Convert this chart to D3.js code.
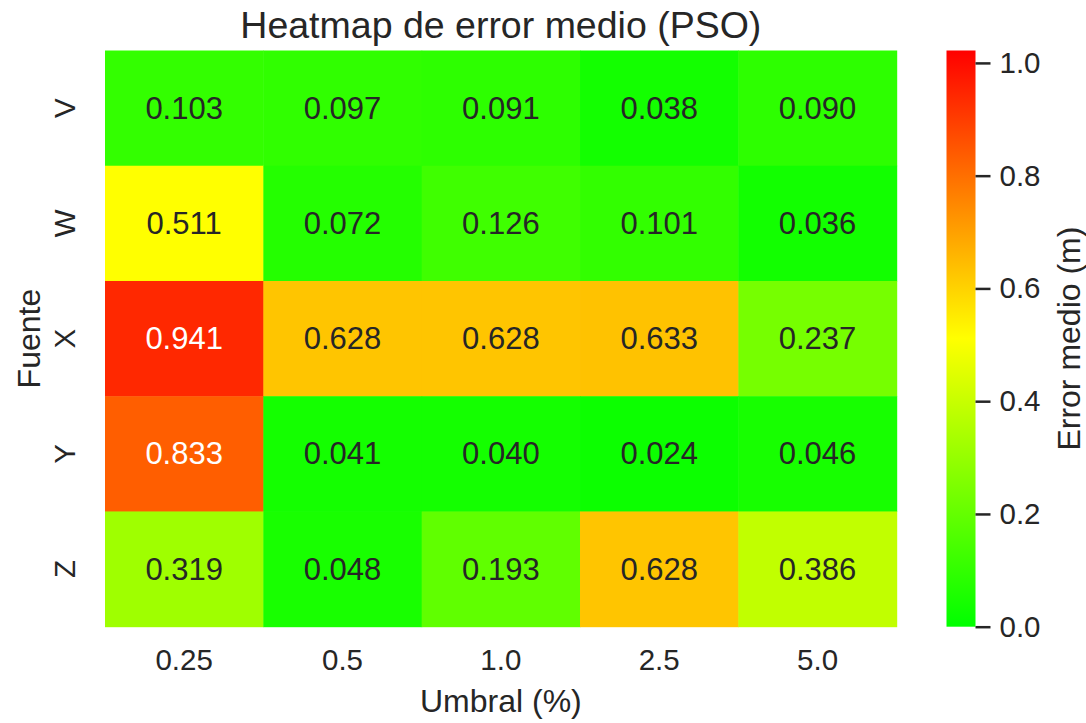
<!DOCTYPE html>
<html>
<head>
<meta charset="utf-8">
<script src="https://cdn.jsdelivr.net/npm/d3@7"></script>
<style>
  body { margin: 0; background: #fff; }
  text { font-family: "Liberation Sans", Arial, sans-serif; fill: #262626; }
</style>
</head>
<body>
<div id="chart"></div>
<script>
const umbrales = ['0.25', '0.5', '1.0', '2.5', '5.0'];
const fuentes = ['V', 'W', 'X', 'Y', 'Z'];
const errorV = [0.103, 0.097, 0.091, 0.038, 0.090];
const errorW = [0.511, 0.072, 0.126, 0.101, 0.036];
const errorX = [0.941, 0.628, 0.628, 0.633, 0.237];
const errorY = [0.833, 0.041, 0.040, 0.024, 0.046];
const errorZ = [0.319, 0.048, 0.193, 0.628, 0.386];
const cbarTicks = [0.0, 0.2, 0.4, 0.6, 0.8, 1.0];
const vmax = 1.022;

const rows = [errorV, errorW, errorX, errorY, errorZ];
const cells = [];
rows.forEach((r, i) => r.forEach((v, j) => cells.push({ fuente: fuentes[i], umbral: umbrales[j], value: v })));

const W = 1086, H = 723;
const plot = { left: 105, right: 896.7, top: 50.5, bottom: 626.7 };
const FONT = '"Liberation Sans", Arial, sans-serif';

const svg = d3.select('#chart').append('svg')
  .attr('width', W).attr('height', H);

const x = d3.scaleBand().domain(umbrales).range([plot.left, plot.right]);
const y = d3.scaleBand().domain(fuentes).range([plot.top, plot.bottom]);

// green -> yellow -> red
const color = d3.scaleLinear()
  .domain([0, vmax / 2, vmax])
  .range(['#00ff00', '#ffff00', '#ff0000'])
  .clamp(true);

function textColor(v) {
  const c = d3.rgb(color(v));
  const lin = ch => { ch /= 255; return ch <= 0.03928 ? ch / 12.92 : Math.pow((ch + 0.055) / 1.055, 2.4); };
  const lum = 0.2126 * lin(c.r) + 0.7152 * lin(c.g) + 0.0722 * lin(c.b);
  return lum > 0.408 ? '#262626' : '#ffffff';
}

svg.selectAll('.cell')
  .data(cells)
  .enter()
  .append('rect')
  .attr('class', 'cell')
  .attr('x', d => x(d.umbral))
  .attr('y', d => y(d.fuente))
  .attr('width', x.bandwidth() + 0.5)
  .attr('height', y.bandwidth() + 0.5)
  .attr('fill', d => color(d.value));

svg.selectAll('.annot')
  .data(cells)
  .enter()
  .append('text')
  .attr('class', 'annot')
  .attr('x', d => x(d.umbral) + x.bandwidth() / 2)
  .attr('y', d => y(d.fuente) + y.bandwidth() / 2)
  .attr('text-anchor', 'middle')
  .attr('dominant-baseline', 'central')
  .style('font-size', '31px')
  .style('fill', d => textColor(d.value))
  .text(d => d.value.toFixed(3));

// x axis
const xAxis = svg.append('g')
  .attr('transform', `translate(0,${plot.bottom})`)
  .call(d3.axisBottom(x).tickSize(0).tickPadding(22));
xAxis.select('.domain').remove();
xAxis.selectAll('text').style('font-size', '29.5px').style('fill', '#262626').style('font-family', FONT);

// y axis, labels rotated
const yAxis = svg.append('g')
  .attr('transform', `translate(${plot.left},0)`)
  .call(d3.axisLeft(y).tickSize(0).tickPadding(0));
yAxis.select('.domain').remove();
yAxis.selectAll('text')
  .attr('x', null).attr('dy', null)
  .attr('text-anchor', 'middle')
  .attr('transform', 'translate(-41,0) rotate(-90)')
  .attr('dominant-baseline', 'central')
  .style('font-size', '29.5px').style('fill', '#262626').style('font-family', FONT);

svg.append('text')
  .attr('x', (plot.left + plot.right) / 2)
  .attr('y', 38)
  .attr('text-anchor', 'middle')
  .style('font-size', '37.5px')
  .text('Heatmap de error medio (PSO)');

svg.append('text')
  .attr('x', (plot.left + plot.right) / 2)
  .attr('y', 712)
  .attr('text-anchor', 'middle')
  .style('font-size', '32px')
  .text('Umbral (%)');

svg.append('text')
  .attr('transform', `translate(40,${(plot.top + plot.bottom) / 2}) rotate(-90)`)
  .attr('text-anchor', 'middle')
  .style('font-size', '32px')
  .text('Fuente');

// colorbar
const cb = { left: 946.5, width: 29 };
const cy = d3.scaleLinear().domain([0, vmax]).range([plot.bottom, plot.top]);

const grad = svg.append('defs').append('linearGradient')
  .attr('id', 'cbgrad').attr('x1', 0).attr('y1', 1).attr('x2', 0).attr('y2', 0);
grad.selectAll('stop')
  .data([0, 0.5, 1])
  .enter()
  .append('stop')
  .attr('offset', d => d)
  .attr('stop-color', d => color(d * vmax));

svg.append('rect')
  .attr('x', cb.left)
  .attr('y', cy(vmax))
  .attr('width', cb.width)
  .attr('height', cy(0) - cy(vmax))
  .attr('fill', 'url(#cbgrad)');

const cAxis = svg.append('g')
  .attr('transform', `translate(${cb.left + cb.width},0)`)
  .call(d3.axisRight(cy).tickValues(cbarTicks).tickFormat(d3.format('.1f')).tickSize(15).tickPadding(9));
cAxis.select('.domain').remove();
cAxis.selectAll('line').attr('stroke', '#262626').attr('stroke-width', 2.5);
cAxis.selectAll('text').style('font-size', '29.5px').style('fill', '#262626').style('font-family', FONT);

svg.append('text')
  .attr('transform', `translate(1069,${(plot.top + plot.bottom) / 2}) rotate(-90)`)
  .attr('text-anchor', 'middle')
  .attr('dominant-baseline', 'central')
  .style('font-size', '32px')
  .text('Error medio (m)');
</script>
</body>
</html>
